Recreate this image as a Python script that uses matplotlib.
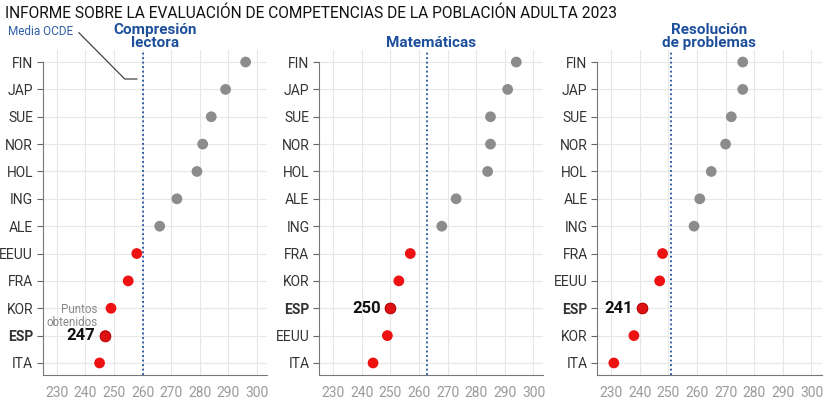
import matplotlib.pyplot as plt

plt.rcParams["font.family"] = ["Roboto", "DejaVu Sans"]

# data
lectura_paises = ["FIN", "JAP", "SUE", "NOR", "HOL", "ING", "ALE", "EEUU", "FRA", "KOR", "ESP", "ITA"]
lectura_puntos = [296, 289, 284, 281, 279, 272, 266, 258, 255, 249, 247, 245]
lectura_ocde = 260

mates_paises = ["FIN", "JAP", "SUE", "NOR", "HOL", "ALE", "ING", "FRA", "KOR", "ESP", "EEUU", "ITA"]
mates_puntos = [294, 291, 285, 285, 284, 273, 268, 257, 253, 250, 249, 244]
mates_ocde = 263

problemas_paises = ["FIN", "JAP", "SUE", "NOR", "HOL", "ALE", "ING", "FRA", "EEUU", "ESP", "KOR", "ITA"]
problemas_puntos = [276, 276, 272, 270, 265, 261, 259, 248, 247, 241, 238, 231]
problemas_ocde = 251

titulos = ["Compresión\nlectora", "Matemáticas", "Resolución\nde problemas"]
xticks = [230, 240, 250, 260, 270, 280, 290, 300]

paneles = [
    (lectura_paises, lectura_puntos, lectura_ocde),
    (mates_paises, mates_puntos, mates_ocde),
    (problemas_paises, problemas_puntos, problemas_ocde),
]

GRIS = "#8c8c8c"
ROJO = "#ee1111"
AZUL = "#1d4f9c"

fig = plt.figure(figsize=(8.4, 4.0), dpi=100)
fig.text(0.006, 0.968, "INFORME SOBRE LA EVALUACIÓN DE COMPETENCIAS DE LA POBLACIÓN ADULTA 2023",
         fontsize=11.2, color="#111111", va="center", ha="left")

lefts = [0.051, 0.380, 0.711]
axes = []
for i, (paises, puntos, ocde) in enumerate(paneles):
    ax = fig.add_axes([lefts[i], 0.0625, 0.267, 0.8125])
    axes.append(ax)
    ys = list(range(len(paises)))
    colores = []
    for p, v in zip(paises, puntos):
        colores.append(ROJO if v < ocde else GRIS)
    ax.scatter(puntos, ys, s=60, c=colores, zorder=3, linewidths=0)
    # Spain highlighted
    k = paises.index("ESP")
    ax.scatter([puntos[k]], [k], s=60, c="#dd1111", edgecolors="#aa0000", linewidths=0.6, zorder=4)
    ax.annotate(str(puntos[k]), (puntos[k], k), xytext=(-7, 0), textcoords="offset points",
                ha="right", va="center", fontsize=12, fontweight="bold", color="#111111")

    ax.axvline(ocde, color=AZUL, linestyle=(0, (1, 1.5)), linewidth=1.3, zorder=2)

    ax.set_xlim(225.2, 303.5)
    ax.set_ylim(len(paises) - 1 + 0.44, -0.44)
    ax.set_yticks(ys)
    ax.set_yticklabels(paises)
    for lab in ax.get_yticklabels():
        if lab.get_text() == "ESP":
            lab.set_fontweight("bold")
    ax.set_xticks(xticks)
    ax.tick_params(axis="y", length=4, color="#666666", labelsize=10, labelcolor="#333333", pad=3)
    ax.tick_params(axis="x", length=0, labelsize=10, labelcolor="#9a9a9a", pad=8)

    ax.grid(axis="x", color="#e6e6e6", linewidth=0.8)
    ax.grid(axis="y", color="#e8e8e8", linewidth=0.9)
    ax.set_axisbelow(True)
    for s in ["top", "right"]:
        ax.spines[s].set_visible(False)
    ax.spines["left"].set_color("#777777")
    ax.spines["bottom"].set_color("#777777")
    ax.spines["left"].set_bounds(len(paises) - 1 + 0.44, 0)

    ax.set_title(titulos[i], fontsize=11, fontweight="bold", color=AZUL, pad=2, linespacing=0.95)

# notes in the first panel
ax = axes[0]
ax.text(244.4, 9.3, "Puntos\nobtenidos", ha="right", va="center", fontsize=8.4, color="#888888",
        linespacing=1.0)
ax.plot([237.8, 253.8, 258.0], [-1.07, 0.62, 0.62], color="#444444", linewidth=0.9, clip_on=False)
fig.text(0.087, 0.922, "Media OCDE", ha="right", va="center", fontsize=8.5, color="#2f5fa8")

fig.savefig("out.png", dpi=100)
